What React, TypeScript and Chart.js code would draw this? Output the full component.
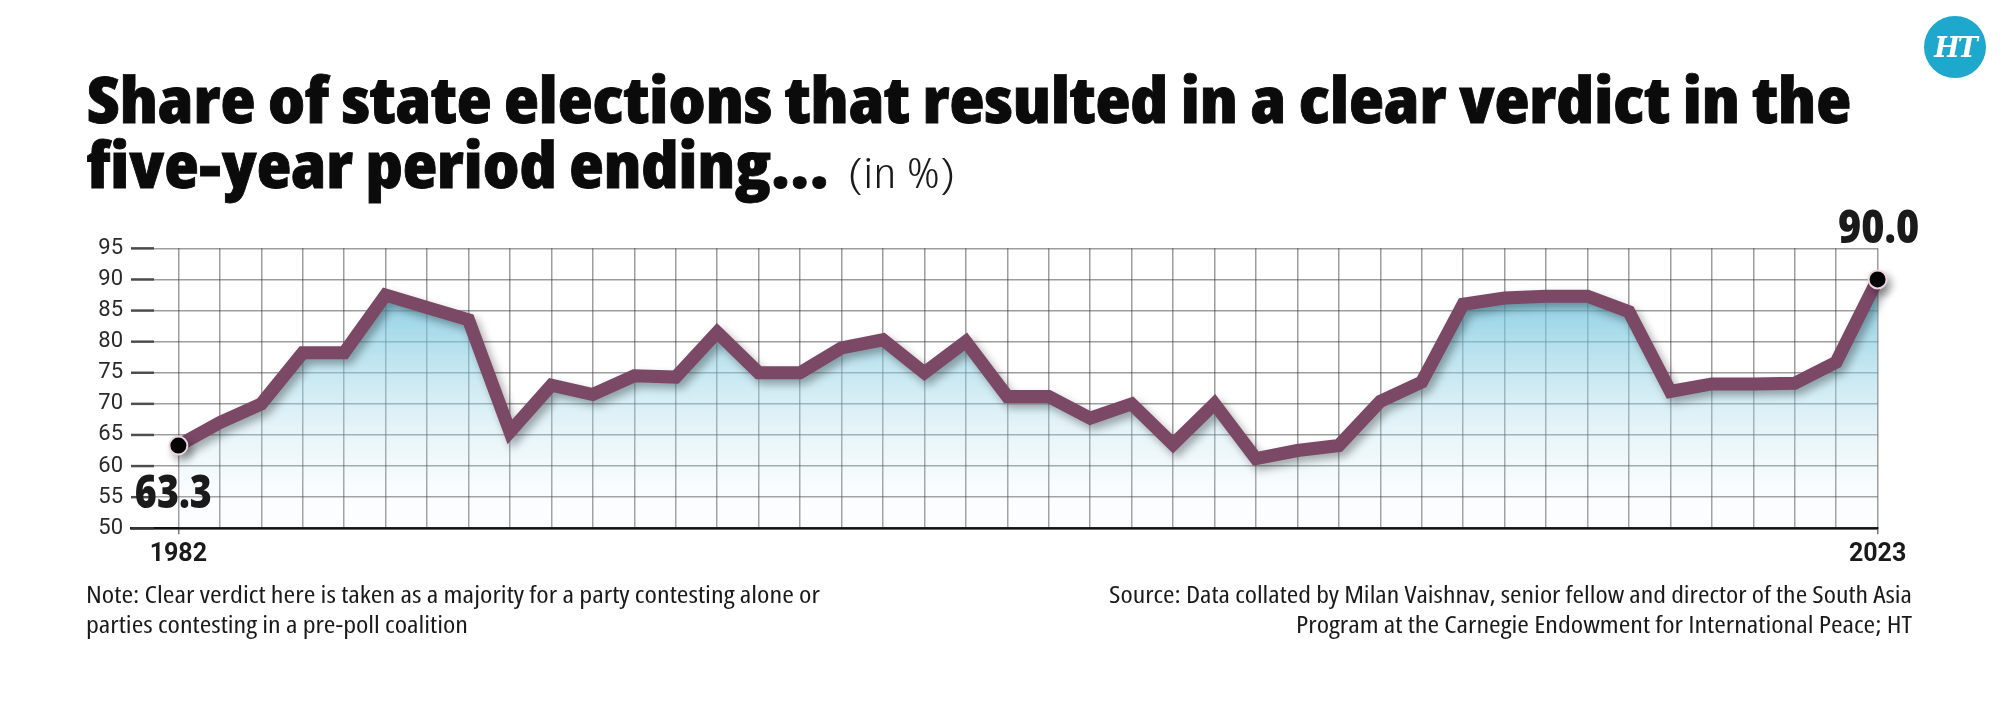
import React, { useEffect, useLayoutEffect, useRef } from 'react';
import { Chart, registerables } from 'chart.js';

Chart.register(...registerables);

// ---------- data ----------
const YEARS = [
  1982, 1983, 1984, 1985, 1986, 1987, 1988, 1989, 1990, 1991, 1992, 1993, 1994, 1995,
  1996, 1997, 1998, 1999, 2000, 2001, 2002, 2003, 2004, 2005, 2006, 2007, 2008, 2009,
  2010, 2011, 2012, 2013, 2014, 2015, 2016, 2017, 2018, 2019, 2020, 2021, 2022, 2023,
];
const SHARE = [
  63.3, 67, 70, 78.2, 78.2, 87.5, 85.5, 83.5, 65.5, 73, 71.5, 74.5, 74.3, 81.5,
  75, 75, 79, 80.3, 75, 80, 71.2, 71.2, 67.7, 70, 63.5, 70, 61.2, 62.5,
  63.3, 70.4, 73.5, 86, 87, 87.3, 87.3, 84.8, 72, 73.2, 73.2, 73.3, 76.7, 90,
];
const Y_TICKS = [50, 55, 60, 65, 70, 75, 80, 85, 90, 95];
const X_LABELS = [1982, 2023];

const TITLE_1 = 'Share of state elections that resulted in a clear verdict in the';
const TITLE_2 = 'five-year period ending...';
const TITLE_UNIT = '(in %)';
const NOTE_LINES = [
  'Note: Clear verdict here is taken as a majority for a party contesting alone or',
  'parties contesting in a pre-poll coalition',
];
const SOURCE_LINES = [
  'Source: Data collated by Milan Vaishnav, senior fellow and director of the South Asia',
  'Program at the Carnegie Endowment for International Peace; HT',
];

// ---------- style ----------
const LINE_COLOR = '#7b4866';
const HEAVY = '"Open Sans", Lato, "Liberation Sans", sans-serif';
const BODY = '"Open Sans", Roboto, "Liberation Sans", "Noto Sans", sans-serif';
const TICK_FONT = 'Roboto, "Liberation Sans", sans-serif';
const X_MIN = 1980.857;

type TP = {
  x: number;
  y: number;
  w?: number;
  align?: 'left' | 'right';
  font: string;
  size: number;
  weight?: number | string;
  color?: string;
  stroke?: number;
  children: string;
};

function FitText({ x, y, w, align = 'left', font, size, weight = 400, color = '#111', stroke = 0, children }: TP) {
  const ref = useRef<HTMLDivElement>(null);
  useLayoutEffect(() => {
    const el = ref.current;
    if (!el) return;
    const fit = () => {
      el.style.transform = 'none';
      el.style.left = '0px';
      el.style.top = '0px';
      const txt = el.firstChild as HTMLElement;
      const mk = el.lastChild as HTMLElement;
      const r = el.getBoundingClientRect();
      const tw = txt.getBoundingClientRect().width;
      const base = mk.getBoundingClientRect().bottom - r.top;
      const sx = w ? w / tw : 1;
      const left = align === 'right' ? x - tw * sx : x;
      el.style.left = left + 'px';
      el.style.top = y - base + 'px';
      el.style.transform = `scaleX(${sx})`;
    };
    fit();
    (document as any).fonts?.ready.then(fit);
  }, []);
  return (
    <div
      ref={ref}
      style={{
        position: 'absolute',
        whiteSpace: 'nowrap',
        transformOrigin: '0 0',
        fontFamily: font,
        fontSize: size,
        fontWeight: weight as any,
        fontStretch: 'condensed',
        color,
        lineHeight: 1,
        WebkitTextStroke: stroke ? `${stroke}px ${color}` : undefined,
      }}
    >
      <span>{children}</span>
      <span style={{ display: 'inline-block', width: 0, height: 0, verticalAlign: 'baseline' }} />
    </div>
  );
}

const shadowPlugin = {
  id: 'lineShadow',
  beforeDatasetDraw(chart: any) {
    const c = chart.ctx;
    c.save();
    c.shadowColor = 'rgba(0,0,0,0.33)';
    c.shadowBlur = 9;
    c.shadowOffsetX = 4;
    c.shadowOffsetY = 5;
  },
  afterDatasetDraw(chart: any) {
    chart.ctx.restore();
  },
};

const stubPlugin = {
  id: 'yStubs',
  beforeDatasetsDraw(chart: any) {
    const { ctx, chartArea, scales } = chart;
    ctx.save();
    ctx.strokeStyle = 'rgba(60,60,60,0.85)';
    ctx.lineWidth = 2.5;
    Y_TICKS.forEach((v) => {
      const y = scales.y.getPixelForValue(v);
      ctx.beginPath();
      ctx.moveTo(chartArea.left, y);
      ctx.lineTo(chartArea.left + 23, y);
      ctx.stroke();
    });
    ctx.restore();
  },
};

function drawFitted(ctx: CanvasRenderingContext2D, text: string, cx: number, by: number, w: number) {
  ctx.save();
  ctx.font = `800 46px ${HEAVY}`;
  ctx.fillStyle = '#1a1a1a';
  ctx.textAlign = 'center';
  ctx.textBaseline = 'alphabetic';
  const mw = ctx.measureText(text).width;
  ctx.translate(cx, by);
  ctx.scale(w / mw, 1);
  ctx.fillText(text, 0, 0);
  ctx.restore();
}

const endLabelPlugin = {
  id: 'endLabels',
  afterDatasetsDraw(chart: any) {
    const meta = chart.getDatasetMeta(0);
    const n = meta.data.length;
    const first = meta.data[0];
    const last = meta.data[n - 1];
    drawFitted(chart.ctx, SHARE[0].toFixed(1), first.x - 5, first.y + 62, 77);
    drawFitted(chart.ctx, SHARE[n - 1].toFixed(1), last.x + 1, last.y - 36, 81);
  },
};

function LineChart() {
  const ref = useRef<HTMLCanvasElement>(null);
  useEffect(() => {
    const canvas = ref.current;
    if (!canvas) return;
    const n = SHARE.length;
    const chart = new Chart(canvas, {
      type: 'line',
      data: {
        datasets: [
          {
            data: YEARS.map((yr, i) => ({ x: yr, y: SHARE[i] })),
            borderColor: LINE_COLOR,
            borderWidth: 13,
            borderJoinStyle: 'miter',
            borderCapStyle: 'butt',
            tension: 0,
            clip: false as any,
            fill: 'start',
            backgroundColor: (ctx: any) => {
              const { chart: ch } = ctx;
              const area = ch.chartArea;
              if (!area) return 'rgba(0,0,0,0)';
              const g = ch.ctx.createLinearGradient(
                0,
                ch.scales.y.getPixelForValue(88),
                0,
                ch.scales.y.getPixelForValue(54),
              );
              g.addColorStop(0, 'rgba(105,192,218,0.78)');
              g.addColorStop(1, 'rgba(210,236,245,0.08)');
              return g;
            },
            pointRadius: (ctx: any) => (ctx.dataIndex === 0 || ctx.dataIndex === n - 1 ? 9 : 0),
            pointHoverRadius: (ctx: any) => (ctx.dataIndex === 0 || ctx.dataIndex === n - 1 ? 9 : 0),
            pointBackgroundColor: '#050505',
            pointBorderColor: '#efd3e1',
            pointBorderWidth: 2,
          } as any,
        ],
      },
      options: {
        responsive: false,
        animation: false,
        events: [],
        layout: { padding: { left: 81, right: 125.4, top: 248.3, bottom: 142.7 } },
        plugins: {
          legend: { display: false },
          tooltip: { enabled: false },
          filler: { drawTime: 'beforeDatasetsDraw' } as any,
        },
        scales: {
          x: {
            type: 'linear',
            min: X_MIN,
            max: 2023,
            afterBuildTicks: (s: any) => {
              s.ticks = YEARS.map((v) => ({ value: v }));
            },
            afterFit: (s: any) => {
              s.height = 40;
            },
            ticks: {
              autoSkip: false,
              maxRotation: 0,
              padding: 5,
              color: '#1a1a1a',
              font: { family: TICK_FONT, size: 25, weight: 'bold' },
              callback: (v: any) => (X_LABELS.includes(Number(v)) ? String(v) : ''),
            },
            grid: {
              color: 'rgba(60,60,60,0.5)',
              lineWidth: 1.5,
              drawTicks: true,
              tickLength: 6,
              tickColor: (ctx: any) =>
                ctx.tick && X_LABELS.includes(ctx.tick.value) ? 'rgba(60,60,60,0.7)' : 'rgba(0,0,0,0)',
            },
            border: { display: true, color: '#111', width: 2.5 },
          },
          y: {
            min: 50,
            max: 95,
            afterBuildTicks: (s: any) => {
              s.ticks = Y_TICKS.map((v) => ({ value: v }));
            },
            afterFit: (s: any) => {
              s.width = 50;
            },
            ticks: {
              padding: 8,
              color: '#2a2a2a',
              font: { family: TICK_FONT, size: 22, weight: 'normal' },
            },
            grid: { color: 'rgba(60,60,60,0.5)', lineWidth: 1.5, drawTicks: false },
            border: { display: false },
          },
        },
      } as any,
      plugins: [stubPlugin, shadowPlugin, endLabelPlugin],
    });
    return () => chart.destroy();
  }, []);
  return (
    <canvas
      ref={ref}
      width={2003}
      height={711}
      style={{ position: 'absolute', left: 0, top: 0, width: 2003, height: 711 }}
    />
  );
}

export default function App() {
  return (
    <div
      style={{
        position: 'absolute',
        left: 0,
        top: 0,
        width: 2003,
        height: 711,
        background: '#fff',
        overflow: 'hidden',
      }}
    >
      <LineChart />
      <FitText x={87} y={123} w={1764} font={HEAVY} size={64} weight={800} color="#0b0b0b" stroke={0.8}>
        {TITLE_1}
      </FitText>
      <FitText x={87} y={188} w={742} font={HEAVY} size={64} weight={800} color="#0b0b0b" stroke={0.8}>
        {TITLE_2}
      </FitText>
      <FitText x={848} y={188} w={107} font={BODY} size={42} weight={300} color="#1a1a1a">
        {TITLE_UNIT}
      </FitText>
      <FitText x={86} y={603} w={734} font={BODY} size={23} color="#1a1a1a">
        {NOTE_LINES[0]}
      </FitText>
      <FitText x={86} y={633} w={382} font={BODY} size={23} color="#1a1a1a">
        {NOTE_LINES[1]}
      </FitText>
      <FitText x={1912} y={603} w={803} align="right" font={BODY} size={23} color="#1a1a1a">
        {SOURCE_LINES[0]}
      </FitText>
      <FitText x={1912} y={633} w={616} align="right" font={BODY} size={23} color="#1a1a1a">
        {SOURCE_LINES[1]}
      </FitText>
      <div
        style={{
          position: 'absolute',
          left: 1924,
          top: 16,
          width: 62,
          height: 62,
          borderRadius: '50%',
          background: '#1ea8cd',
          color: '#fff',
          display: 'flex',
          alignItems: 'center',
          justifyContent: 'center',
          fontFamily: '"DejaVu Serif", "Liberation Serif", serif',
          fontWeight: 'bold',
          fontStyle: 'italic',
          fontSize: 27,
          letterSpacing: -2,
        }}
      >
        HT
      </div>
    </div>
  );
}
